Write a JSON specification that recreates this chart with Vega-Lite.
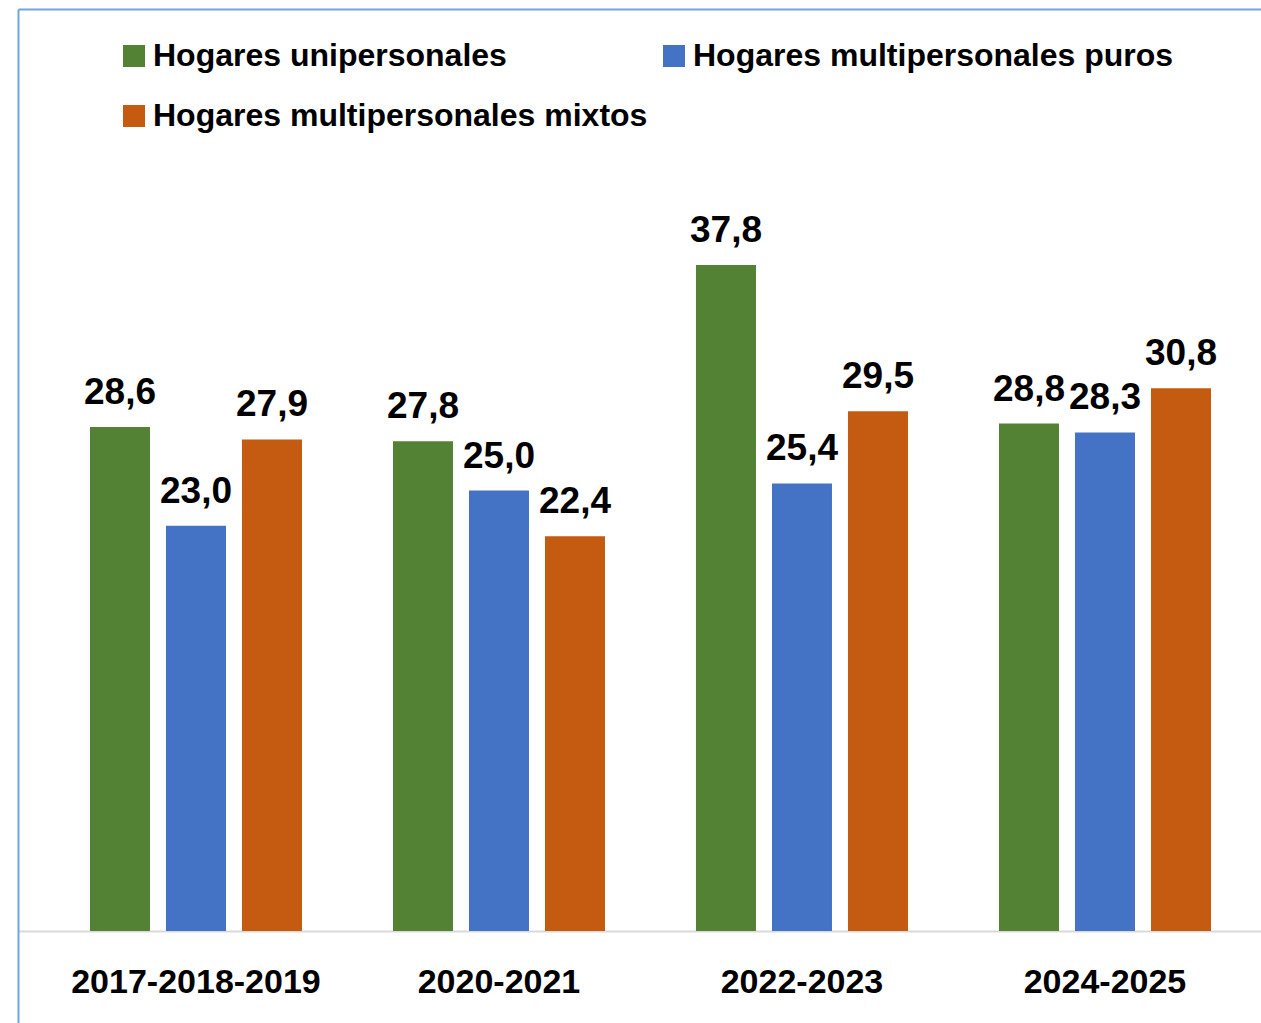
{
  "$schema": "https://vega.github.io/schema/vega-lite/v6.json",
  "width": 1243,
  "height": 1014,
  "autosize": {"type": "none"},
  "padding": {"left": 18, "top": 9, "right": 0, "bottom": 0},
  "background": "white",
  "config": {
    "view": {"stroke": null},
    "locale": {"number": {"decimal": ",", "thousands": ".", "grouping": [3], "currency": ["", " €"]}},
    "font": "Liberation Sans"
  },
  "data": {
    "values": [
      {"periodo": "2017-2018-2019", "tipo": "Hogares unipersonales", "valor": 28.6},
      {"periodo": "2017-2018-2019", "tipo": "Hogares multipersonales puros", "valor": 23.0},
      {"periodo": "2017-2018-2019", "tipo": "Hogares multipersonales mixtos", "valor": 27.9},
      {"periodo": "2020-2021", "tipo": "Hogares unipersonales", "valor": 27.8},
      {"periodo": "2020-2021", "tipo": "Hogares multipersonales puros", "valor": 25.0},
      {"periodo": "2020-2021", "tipo": "Hogares multipersonales mixtos", "valor": 22.4},
      {"periodo": "2022-2023", "tipo": "Hogares unipersonales", "valor": 37.8},
      {"periodo": "2022-2023", "tipo": "Hogares multipersonales puros", "valor": 25.4},
      {"periodo": "2022-2023", "tipo": "Hogares multipersonales mixtos", "valor": 29.5},
      {"periodo": "2024-2025", "tipo": "Hogares unipersonales", "valor": 28.8},
      {"periodo": "2024-2025", "tipo": "Hogares multipersonales puros", "valor": 28.3},
      {"periodo": "2024-2025", "tipo": "Hogares multipersonales mixtos", "valor": 30.8}
    ]
  },
  "layer": [
    {
      "mark": {"type": "bar"},
      "encoding": {
        "x": {
          "field": "periodo", "type": "nominal", "sort": null,
          "scale": {"paddingInner": 0.3003, "paddingOuter": 0.2013, "align": 0.59},
          "axis": {
            "orient": "bottom", "offset": -92, "title": null, "labelAngle": 0,
            "domain": true, "domainColor": "#D9D9D9", "domainWidth": 2,
            "ticks": false, "labelPadding": 34, "labelLimit": 0,
            "labelFont": "Liberation Sans", "labelFontSize": 34, "labelFontWeight": "bold", "labelColor": "#000000"
          }
        },
        "xOffset": {
          "field": "tipo", "type": "nominal",
          "sort": ["Hogares unipersonales", "Hogares multipersonales puros", "Hogares multipersonales mixtos"],
          "scale": {"paddingInner": 0.2105, "paddingOuter": 0}
        },
        "y": {
          "field": "valor", "type": "quantitative",
          "scale": {"domain": [-5.221, 52.33], "nice": false, "zero": false},
          "axis": {
            "orient": "left", "title": null, "labels": false, "ticks": false, "grid": false,
            "domain": true, "domainColor": "#6FA6E0", "domainWidth": 2
          }
        },
        "color": {
          "field": "tipo", "type": "nominal",
          "scale": {
            "domain": ["Hogares unipersonales", "Hogares multipersonales puros", "Hogares multipersonales mixtos"],
            "range": ["#548235", "#4472C4", "#C55A11"]
          },
          "legend": {
            "title": null, "orient": "none", "legendX": 100, "legendY": 31,
            "direction": "horizontal",
            "columns": 2, "columnPadding": 10, "rowPadding": 28,
            "symbolType": "square", "symbolSize": 484, "symbolStrokeWidth": 0, "symbolOpacity": 1,
            "labelFont": "Liberation Sans", "labelFontSize": 32, "labelFontWeight": "bold", "labelColor": "#000000",
            "labelOffset": 3, "labelLimit": 0
          }
        }
      }
    },
    {
      "mark": {"type": "text", "baseline": "alphabetic", "align": "center", "dy": -23,
               "font": "Liberation Sans", "fontSize": 37, "fontWeight": "bold", "color": "#000000"},
      "encoding": {
        "x": {
          "field": "periodo", "type": "nominal", "sort": null,
          "axis": {
            "orient": "top", "title": null, "labels": false, "ticks": false,
            "domain": true, "domainColor": "#6FA6E0", "domainWidth": 2
          }
        },
        "xOffset": {
          "field": "tipo", "type": "nominal",
          "sort": ["Hogares unipersonales", "Hogares multipersonales puros", "Hogares multipersonales mixtos"]
        },
        "y": {"field": "valor", "type": "quantitative", "axis": null},
        "text": {"field": "valor", "type": "quantitative", "format": ".1f"}
      }
    }
  ],
  "resolve": {"axis": {"x": "independent", "y": "independent"}}
}
